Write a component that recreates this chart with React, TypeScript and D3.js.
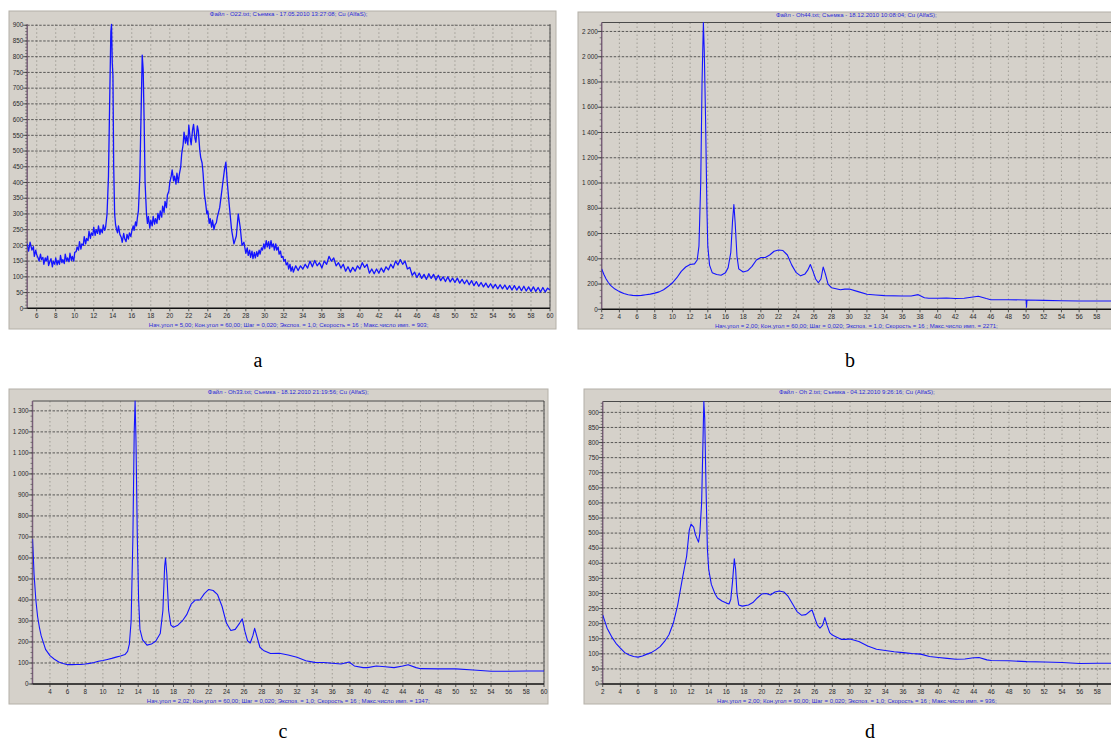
import * as d3 from "d3";

type Pt = [number, number];

// panel a: O22 (2θ, counts), noisy scan
const scanA: Pt[] = [
  [5.0, 205], [5.15, 182], [5.3, 210], [5.5, 185], [5.65, 196], [5.75, 165], [5.9, 185], [6.0, 170], [6.15, 160], [6.25, 150],
  [6.4, 172], [6.5, 155], [6.65, 162], [6.75, 140], [6.9, 160], [7.0, 150], [7.15, 166], [7.25, 136], [7.4, 150], [7.5, 158],
  [7.65, 132], [7.75, 150], [7.9, 140], [8.0, 160], [8.15, 138], [8.25, 152], [8.4, 140], [8.5, 168], [8.65, 145], [8.75, 155],
  [8.9, 142], [9.0, 172], [9.15, 150], [9.25, 160], [9.4, 148], [9.5, 175], [9.65, 152], [9.75, 165], [9.9, 150], [10.0, 178],
  [10.15, 180], [10.25, 195], [10.4, 185], [10.5, 212], [10.65, 188], [10.75, 205], [10.9, 200], [11.0, 228], [11.15, 205], [11.25, 222],
  [11.4, 215], [11.5, 245], [11.65, 222], [11.75, 240], [11.9, 232], [12.0, 258], [12.15, 232], [12.25, 250], [12.4, 238], [12.5, 262],
  [12.65, 235], [12.75, 252], [12.9, 240], [13.0, 265], [13.15, 248], [13.25, 258], [13.4, 300], [13.55, 420], [13.7, 700], [13.8, 880],
  [13.87, 903], [13.95, 780], [14.02, 740], [14.1, 450], [14.2, 300], [14.3, 265], [14.4, 250], [14.5, 240], [14.6, 262], [14.75, 235],
  [14.9, 225], [15.0, 210], [15.15, 238], [15.25, 222], [15.4, 212], [15.5, 235], [15.65, 220], [15.75, 240], [15.9, 228], [16.0, 245],
  [16.15, 262], [16.25, 248], [16.4, 275], [16.5, 262], [16.6, 290], [16.7, 310], [16.85, 420], [17.0, 650], [17.1, 805], [17.2, 760],
  [17.3, 600], [17.4, 400], [17.55, 300], [17.65, 270], [17.75, 292], [17.9, 255], [18.0, 280], [18.15, 262], [18.25, 292], [18.4, 268],
  [18.5, 285], [18.65, 270], [18.75, 302], [18.9, 282], [19.0, 310], [19.15, 290], [19.25, 325], [19.4, 305], [19.5, 340], [19.65, 320],
  [19.75, 360], [19.9, 372], [20.0, 400], [20.15, 420], [20.25, 440], [20.4, 405], [20.5, 420], [20.65, 395], [20.75, 430], [20.9, 400],
  [21.0, 425], [21.15, 450], [21.25, 490], [21.4, 520], [21.5, 560], [21.65, 525], [21.75, 548], [21.9, 520], [22.0, 582], [22.15, 540],
  [22.25, 520], [22.4, 568], [22.5, 585], [22.65, 540], [22.75, 528], [22.9, 580], [23.0, 565], [23.15, 505], [23.25, 480], [23.4, 462],
  [23.5, 430], [23.65, 360], [23.75, 340], [23.9, 300], [24.0, 310], [24.15, 270], [24.25, 285], [24.4, 258], [24.5, 280], [24.65, 250],
  [24.75, 265], [24.9, 272], [25.0, 290], [25.25, 320], [25.5, 380], [25.75, 440], [25.9, 465], [26.05, 400], [26.25, 330], [26.5, 250],
  [26.75, 205], [27.0, 230], [27.2, 300], [27.4, 260], [27.6, 200], [27.8, 210], [28.0, 175], [28.15, 192], [28.25, 168], [28.4, 185],
  [28.5, 162], [28.65, 182], [28.75, 158], [28.9, 178], [29.0, 160], [29.15, 180], [29.25, 165], [29.4, 185], [29.5, 172], [29.65, 192],
  [29.75, 185], [29.9, 205], [30.0, 190], [30.15, 215], [30.25, 195], [30.4, 212], [30.5, 190], [30.65, 215], [30.75, 195], [30.9, 205],
  [31.0, 185], [31.15, 205], [31.25, 185], [31.4, 195], [31.5, 172], [31.65, 182], [31.75, 162], [31.9, 165], [32.0, 150], [32.15, 155],
  [32.25, 138], [32.4, 145], [32.5, 125], [32.65, 140], [32.75, 118], [32.9, 132], [33.0, 115], [33.25, 135], [33.5, 120], [33.75, 135],
  [34.0, 125], [34.25, 140], [34.5, 128], [34.75, 150], [35.0, 132], [35.25, 152], [35.5, 135], [35.75, 145], [36.0, 128], [36.25, 150],
  [36.5, 140], [36.75, 165], [37.0, 150], [37.25, 160], [37.5, 135], [37.75, 145], [38.0, 128], [38.25, 140], [38.5, 118], [38.75, 132],
  [39.0, 115], [39.25, 130], [39.5, 118], [39.75, 135], [40.0, 125], [40.25, 145], [40.5, 130], [40.75, 140], [41.0, 112], [41.25, 125],
  [41.5, 110], [41.75, 125], [42.0, 112], [42.25, 128], [42.5, 115], [42.75, 132], [43.0, 122], [43.25, 140], [43.5, 128], [43.75, 150],
  [44.0, 138], [44.25, 155], [44.5, 140], [44.75, 150], [45.0, 125], [45.25, 130], [45.5, 105], [45.75, 115], [46.0, 98], [46.25, 112],
  [46.5, 95], [46.75, 108], [47.0, 92], [47.25, 110], [47.5, 95], [47.75, 108], [48.0, 90], [48.25, 105], [48.5, 88], [48.75, 100],
  [49.0, 85], [49.25, 100], [49.5, 84], [49.75, 96], [50.0, 82], [50.25, 96], [50.5, 80], [50.75, 92], [51.0, 78], [51.25, 90],
  [51.5, 75], [51.75, 88], [52.0, 72], [52.25, 85], [52.5, 70], [52.75, 82], [53.0, 68], [53.25, 80], [53.5, 66], [53.75, 78],
  [54.0, 64], [54.25, 76], [54.5, 62], [54.75, 75], [55.0, 62], [55.25, 74], [55.5, 60], [55.75, 72], [56.0, 58], [56.25, 72],
  [56.5, 58], [56.75, 70], [57.0, 56], [57.25, 70], [57.5, 55], [57.75, 68], [58.0, 54], [58.25, 68], [58.5, 54], [58.75, 66],
  [59.0, 52], [59.25, 66], [59.5, 52], [59.75, 64], [60.0, 58],
];

// panel b: Oh44
const scanB: Pt[] = [
  [2.0, 320], [2.25, 275], [2.5, 240], [2.75, 212], [3.0, 190], [3.5, 160], [4.0, 140], [4.5, 125],
  [5.0, 115], [5.5, 110], [6.0, 108], [6.5, 110], [7.0, 115], [7.5, 120], [8.0, 128], [8.5, 138],
  [9.0, 155], [9.5, 180], [10.0, 210], [10.5, 250], [11.0, 300], [11.5, 335], [12.0, 355], [12.5, 360],
  [12.8, 390], [13.0, 500], [13.2, 1000], [13.35, 1800], [13.5, 2271], [13.6, 2050], [13.75, 1500], [13.9, 800],
  [14.0, 500], [14.2, 350], [14.5, 290], [15.0, 275], [15.5, 270], [16.0, 290], [16.3, 330], [16.6, 450],
  [16.8, 700], [16.95, 830], [17.1, 680], [17.3, 420], [17.5, 320], [18.0, 295], [18.5, 305], [19.0, 340],
  [19.5, 390], [20.0, 410], [20.5, 410], [21.0, 430], [21.5, 460], [22.0, 470], [22.5, 465], [23.0, 430],
  [23.5, 350], [24.0, 290], [24.5, 265], [25.0, 280], [25.3, 310], [25.6, 355], [25.9, 300], [26.2, 240],
  [26.5, 210], [26.8, 240], [27.05, 335], [27.3, 280], [27.6, 200], [28.0, 170], [29.0, 155], [29.5, 160],
  [30.0, 161], [31.0, 140], [32.0, 119], [33.0, 113], [34.0, 108], [36.0, 105], [37.0, 105], [37.8, 116],
  [38.5, 92], [39.0, 87], [40.0, 87], [41.0, 90], [42.0, 85], [43.0, 87], [44.0, 97], [44.6, 103],
  [45.5, 85], [46.0, 76], [48.0, 76], [50.0, 74], [50.05, 16], [50.1, 74], [52.0, 71], [54.0, 68],
  [56.0, 66], [58.0, 66], [60.0, 66],
];

// panel c: Oh33
const scanC: Pt[] = [
  [2.02, 690], [2.1, 620], [2.2, 520], [2.4, 400], [2.6, 320], [2.8, 270], [3.0, 230], [3.5, 165],
  [4.0, 135], [4.5, 118], [5.0, 105], [5.5, 98], [6.0, 92], [6.5, 92], [7.0, 93], [7.5, 93],
  [8.0, 95], [8.5, 98], [9.0, 102], [9.5, 108], [10.0, 112], [10.5, 117], [11.0, 122], [11.5, 128],
  [12.0, 133], [12.5, 140], [12.8, 155], [13.0, 190], [13.2, 300], [13.4, 700], [13.55, 1200], [13.65, 1347],
  [13.75, 1160], [13.9, 700], [14.05, 400], [14.2, 260], [14.5, 210], [15.0, 185], [15.5, 190], [16.0, 205],
  [16.5, 240], [16.8, 350], [17.0, 560], [17.1, 600], [17.25, 520], [17.45, 350], [17.7, 280], [18.0, 270],
  [18.5, 280], [19.0, 300], [19.5, 330], [20.0, 380], [20.5, 400], [21.0, 400], [21.5, 430], [22.0, 450],
  [22.5, 445], [23.0, 425], [23.5, 370], [24.0, 290], [24.5, 255], [25.0, 260], [25.5, 290], [25.8, 310],
  [26.1, 250], [26.4, 205], [26.7, 195], [27.0, 230], [27.2, 265], [27.5, 220], [27.8, 175], [28.2, 160],
  [29.0, 145], [30.0, 146], [31.0, 138], [32.0, 127], [33.0, 111], [34.0, 103], [35.0, 102], [36.0, 99],
  [37.0, 95], [37.9, 105], [38.5, 86], [39.5, 78], [40.0, 78], [41.0, 86], [42.0, 82], [43.0, 78],
  [44.0, 86], [44.6, 92], [45.5, 78], [46.0, 73], [48.0, 72], [50.0, 72], [52.0, 67], [54.0, 61],
  [56.0, 61], [58.0, 62], [60.0, 62],
];

// panel d: Oh 2
const scanD: Pt[] = [
  [2.0, 229], [2.5, 185], [3.0, 157], [3.5, 135], [4.0, 119], [4.5, 104], [5.0, 96], [5.5, 91],
  [6.0, 89], [6.5, 93], [7.0, 99], [7.5, 104], [8.0, 113], [8.5, 124], [9.0, 141], [9.5, 163],
  [10.0, 202], [10.5, 263], [11.0, 346], [11.5, 423], [11.8, 510], [12.0, 530], [12.3, 520], [12.5, 495],
  [12.7, 480], [12.85, 470], [13.0, 500], [13.2, 600], [13.35, 800], [13.45, 936], [13.55, 880], [13.7, 650],
  [13.85, 450], [14.0, 380], [14.3, 330], [14.7, 300], [15.0, 285], [15.5, 275], [16.0, 268], [16.3, 265],
  [16.5, 280], [16.7, 340], [16.9, 415], [17.05, 380], [17.2, 300], [17.4, 262], [17.8, 258], [18.5, 262],
  [19.0, 270], [19.5, 285], [20.0, 298], [20.5, 300], [21.0, 295], [21.5, 305], [22.0, 308], [22.5, 305],
  [23.0, 290], [23.5, 265], [24.0, 240], [24.5, 228], [25.0, 230], [25.5, 242], [25.7, 245], [26.0, 220],
  [26.3, 195], [26.6, 185], [26.9, 195], [27.15, 220], [27.4, 195], [27.7, 170], [28.0, 162], [28.5, 155],
  [29.0, 148], [29.5, 148], [30.0, 149], [31.0, 141], [32.0, 126], [33.0, 115], [34.0, 111], [35.0, 107],
  [36.0, 104], [37.0, 101], [38.0, 99], [39.0, 91], [40.0, 88], [41.0, 85], [42.0, 82], [43.0, 83],
  [44.0, 87], [44.6, 88], [45.5, 80], [46.0, 78], [48.0, 77], [50.0, 74], [52.0, 73], [54.0, 71],
  [56.0, 68], [58.0, 69], [60.0, 69],
];

const titles = [
  "Файл - O22.txt;  Съемка - 17.05.2010 13:27:08;   Cu (AlfaS);",
  "Файл - Oh44.txt;  Съемка - 18.12.2010 10:08:04;   Cu (AlfaS);",
  "Файл - Oh33.txt;  Съемка - 18.12.2010 21:19:56;   Cu (AlfaS);",
  "Файл - Oh 2.txt;  Съемка - 04.12.2010 9:26:16;   Cu (AlfaS);",
];

const infos = [
  "Нач.угол = 5,00;  Кон.угол = 60,00;  Шаг = 0,020;  Экспоз. = 1,0;  Скорость =  16 ;  Макс.число имп. = 903;",
  "Нач.угол = 2,00;  Кон.угол = 60,00;  Шаг = 0,020;  Экспоз. = 1,0;  Скорость =  16 ;  Макс.число имп. = 2271;",
  "Нач.угол = 2,02;  Кон.угол = 60,00;  Шаг = 0,020;  Экспоз. = 1,0;  Скорость =  16 ;  Макс.число имп. = 1347;",
  "Нач.угол = 2,00;  Кон.угол = 60,00;  Шаг = 0,020;  Экспоз. = 1,0;  Скорость =  16 ;  Макс.число имп. = 936;",
];

const captions = ["a", "b", "c", "d"];
const startAngles = [5, 2, 2.02, 2];
const maxCounts = [903, 2271, 1347, 936];
const yMajorSteps = [50, 200, 100, 50];
const yMinorSteps = [10, 50, 25, 10];

// layout for each panel (pixels)
const layouts = [
  { fx: 9, fy: 11, fw: 547, fh: 318, left: 27.2, right: 550, top: 24.3, bottom: 308.3, topLine: false, cx: 258, cy: 367, sw: 1.3 },
  { fx: 578, fy: 12, fw: 540, fh: 317, left: 601.7, right: 1114.5, top: 22.5, bottom: 309.3, topLine: true, cx: 850, cy: 367, sw: 1.1 },
  { fx: 9, fy: 389, fw: 539, fh: 315, left: 32.5, right: 544, top: 401, bottom: 684, topLine: true, cx: 283, cy: 738, sw: 1.1 },
  { fx: 584, fy: 389, fw: 540, fh: 315, left: 602.7, right: 1115, top: 401.5, bottom: 684, topLine: true, cx: 870, cy: 738, sw: 1.1 },
];

const scans = [scanA, scanB, scanC, scanD];

const fmtCount = (n: number) =>
  n >= 1000 ? `${Math.floor(n / 1000)} ${String(n % 1000).padStart(3, "0")}` : `${n}`;

const sans = "'Liberation Sans', Arial, sans-serif";

function Diffractogram({ i }: { i: number }) {
  const L = layouts[i];
  const x = d3.scaleLinear().domain([startAngles[i], 60]).range([L.left, L.right]);
  const y = d3.scaleLinear().domain([0, maxCounts[i]]).range([L.bottom, L.top]);
  const line = d3.line<Pt>().x(d => x(d[0])).y(d => y(d[1]));

  const xTicks = d3.range(2, 61, 2).filter(t => t >= startAngles[i] && x(t) < 1108);
  const yMajor = d3.range(0, maxCounts[i] + 1, yMajorSteps[i]);
  const yMinor = d3.range(0, maxCounts[i] + 1, yMinorSteps[i]);
  const clipId = `clip-${i}`;
  const visRight = Math.min(L.right, 1111);
  const midX = (L.left + Math.min(L.right, 1111)) / 2;

  return (
    <g>
      <rect x={L.fx} y={L.fy} width={L.fw} height={L.fh} fill="#d5d1ca" stroke="#b4b0a8" strokeWidth={1} />
      <clipPath id={clipId}>
        <rect x={L.left} y={L.top - 2} width={L.right - L.left} height={L.bottom - L.top + 2} />
      </clipPath>

      {/* grid */}
      {xTicks.filter(t => t > startAngles[i]).map(t => (
        <line key={`vx${t}`} x1={x(t)} x2={x(t)} y1={L.top} y2={L.bottom}
          stroke="#939089" strokeWidth={0.8} strokeDasharray="1.5,2.5" />
      ))}
      {yMajor.filter(v => v > 0).map(v => (
        <line key={`hy${v}`} x1={L.left} x2={visRight} y1={y(v)} y2={y(v)}
          stroke="#3a3a3a" strokeWidth={0.8} strokeDasharray="2.5,1.5" />
      ))}

      {/* frame */}
      {L.topLine && (
        <line x1={L.left} x2={visRight} y1={L.top} y2={L.top} stroke="#4a4a4a" strokeWidth={1} />
      )}
      {L.right < 1110 && (
        <line x1={L.right} x2={L.right} y1={L.top} y2={L.bottom} stroke="#4a4a4a" strokeWidth={1} />
      )}
      <line x1={L.left} x2={L.left} y1={L.top} y2={L.bottom} stroke="#7a5f7a" strokeWidth={1.5} />
      <line x1={L.left} x2={visRight} y1={L.bottom} y2={L.bottom} stroke="#111" strokeWidth={1.5} />

      {/* y ticks */}
      {yMinor.map(v => (
        <line key={`my${v}`} x1={L.left - 2} x2={L.left} y1={y(v)} y2={y(v)} stroke="#555" strokeWidth={0.7} />
      ))}
      {yMajor.map(v => (
        <g key={`ty${v}`}>
          <line x1={L.left - 4} x2={L.left} y1={y(v)} y2={y(v)} stroke="#333" strokeWidth={0.8} />
          <text x={L.left - 4} y={y(v) + 2.2} textAnchor="end" fontSize={6.3} fill="#2a2a2a" fontFamily={sans}>
            {fmtCount(v)}
          </text>
        </g>
      ))}

      {/* x ticks */}
      {xTicks.map(t => (
        <g key={`tx${t}`}>
          <line x1={x(t)} x2={x(t)} y1={L.bottom} y2={L.bottom + 3} stroke="#333" strokeWidth={0.8} />
          <text x={x(t)} y={L.bottom + 10} textAnchor="middle" fontSize={6.3} fill="#2a2a2a" fontFamily={sans}>
            {t}
          </text>
        </g>
      ))}

      {/* scan */}
      <path d={line(scans[i]) ?? ""} fill="none" stroke="#1414ff" strokeWidth={L.sw}
        strokeLinejoin="round" clipPath={`url(#${clipId})`} />

      <text x={midX} y={L.fy + 5} textAnchor="middle" fontSize={6} fill="#2a2ad8" fontFamily={sans}>
        {titles[i]}
      </text>
      <text x={midX} y={L.bottom + 18.5} textAnchor="middle" fontSize={6} fill="#2a2ad8" fontFamily={sans}>
        {infos[i]}
      </text>

      <text x={L.cx} y={L.cy} textAnchor="middle" fontSize={20} fill="#000"
        fontFamily="'Liberation Serif', 'Times New Roman', serif">
        {captions[i]}
      </text>
    </g>
  );
}

export default function App() {
  return (
    <svg width={1111} height={744} viewBox="0 0 1111 744"
      style={{ position: "absolute", left: 0, top: 0, background: "#fff", display: "block" }}>
      <rect width={1111} height={744} fill="#fff" />
      {[0, 1, 2, 3].map(i => <Diffractogram key={i} i={i} />)}
    </svg>
  );
}
